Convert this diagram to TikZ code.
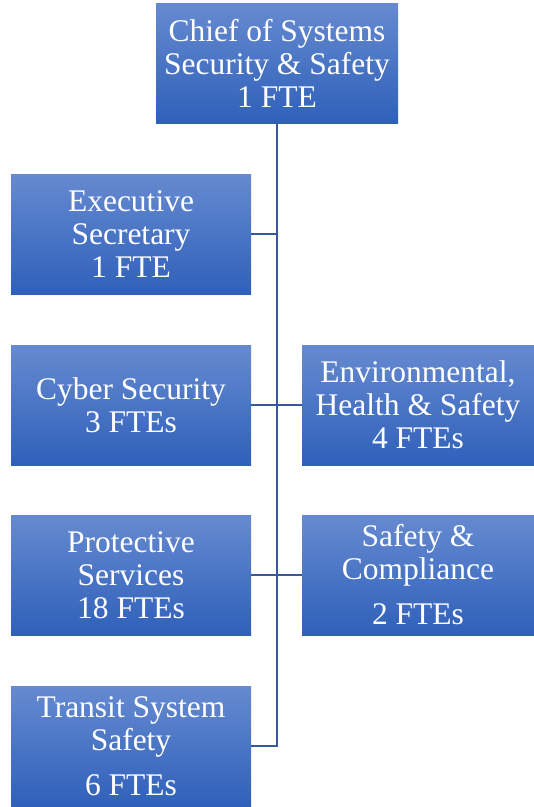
\documentclass[tikz,border=0pt]{standalone}
\usepackage{fontspec}
\setmainfont{Liberation Serif}
\usepackage{tikz}
\usetikzlibrary{positioning, calc}

\begin{document}
\begin{tikzpicture}[x=1pt, y=-1pt]
  \definecolor{boxtop}{RGB}{102,138,208}
  \definecolor{boxbottom}{RGB}{47,96,186}
  \definecolor{linkline}{RGB}{56,88,156}
  \tikzset{
    unitbox/.style={draw=none, top color=boxtop, bottom color=boxbottom,
      text=white, align=center, inner sep=0pt,
      minimum width=240pt, minimum height=120pt,
      font=\fontsize{31.5}{33}\selectfont},
    link/.style={draw=linkline, line width=1.8pt}
  }

  \useasboundingbox (0,0) rectangle (534,807);

  % head of the unit
  \node[unitbox, minimum width=242pt] (chief) at (277,63)
    {Chief of Systems\\Security \& Safety\\1 FTE};

  % left column
  \node[unitbox] (secretary) at (131,234) {Executive\\Secretary\\1 FTE};
  \node[unitbox] (cyber) at (131,405) {Cyber Security\\3 FTEs};
  \node[unitbox] (protective) at (131,575) {Protective\\Services\\18 FTEs};
  \node[unitbox] (transit) at (131,746) {Transit System\\Safety\\[12pt]6 FTEs};

  % right column
  \node[unitbox, minimum width=232pt] (ehs) at (418,405)
    {Environmental,\\Health \& Safety\\4 FTEs};
  \node[unitbox, minimum width=232pt] (compliance) at (418,575)
    {Safety \&\\Compliance\\[12pt]2 FTEs};

  % connectors
  \draw[link] (chief.south) |- (transit.east);
  \draw[link] (secretary.east) -- (secretary.east -| chief.south);
  \draw[link] (cyber.east) -- (ehs.west);
  \draw[link] (protective.east) -- (compliance.west);
\end{tikzpicture}
\end{document}
